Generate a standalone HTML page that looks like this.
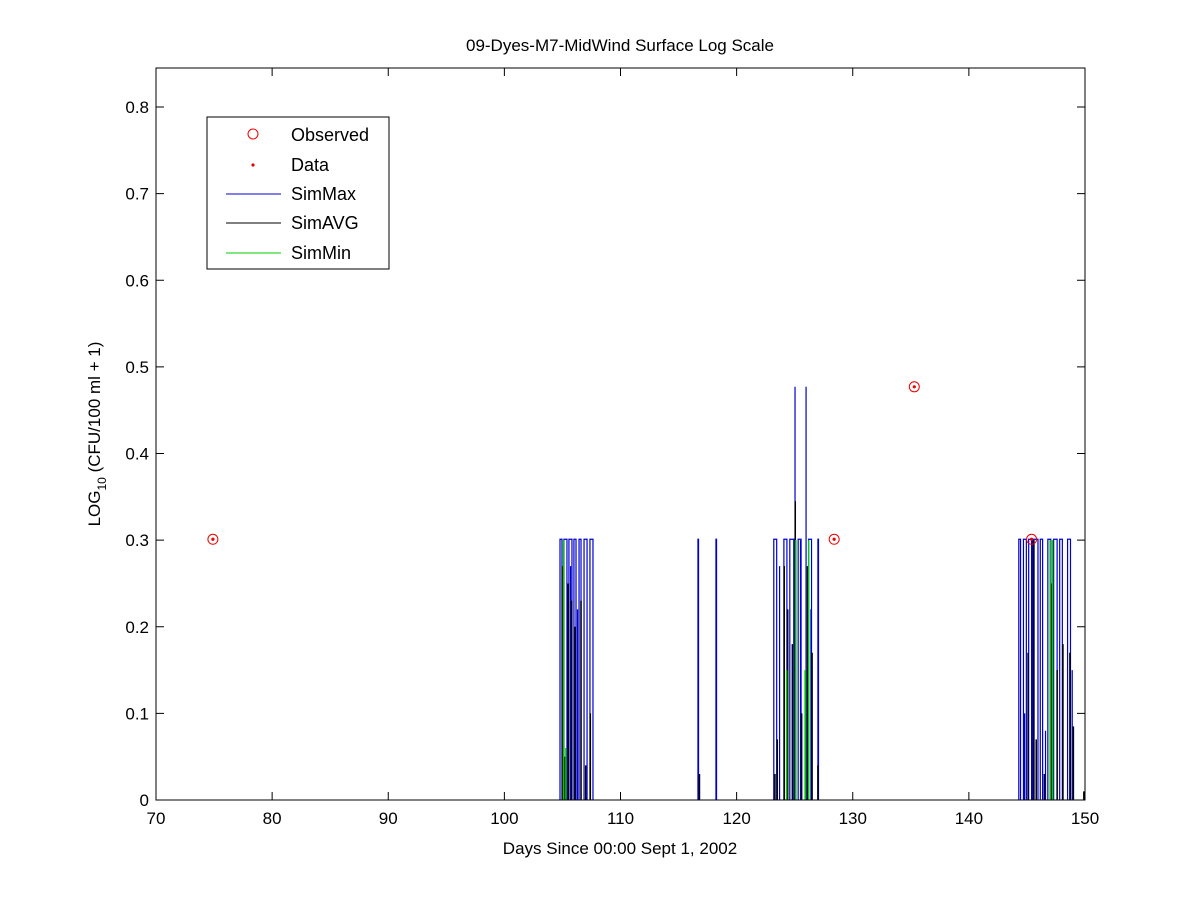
<!DOCTYPE html>
<html><head><meta charset="utf-8"><style>
body{margin:0;background:#fff;}
svg{display:block;font-family:"Liberation Sans",Arial,sans-serif;}
</style></head><body>
<svg id="chart" width="1200" height="900">
<rect width="1200" height="900" fill="#fff"/>
<text x="620" y="51" font-size="17" text-anchor="middle">09-Dyes-M7-MidWind Surface Log Scale</text>
<text x="620" y="854" font-size="17" text-anchor="middle">Days Since 00:00 Sept 1, 2002</text>
<text transform="translate(100,434) rotate(-90)" font-size="17" text-anchor="middle">LOG<tspan font-size="12" dy="6">10</tspan><tspan dy="-6"> (CFU/100 ml + 1)</tspan></text>
<g id="plot"></g>
<g id="axes"></g>
<g>
<rect x="207" y="117" width="182" height="152" fill="#fff" stroke="#000" stroke-width="1"/>
<circle cx="253" cy="134" r="5" fill="none" stroke="#e00"/>
<text x="291" y="141" font-size="18">Observed</text>
<circle cx="253" cy="165" r="1.6" fill="#e00"/>
<text x="291" y="171" font-size="18">Data</text>
<line x1="226" y1="194" x2="281" y2="194" stroke="#00c"/>
<text x="291" y="200" font-size="18">SimMax</text>
<line x1="226" y1="223" x2="281" y2="223" stroke="#000"/>
<text x="291" y="229" font-size="18">SimAVG</text>
<line x1="226" y1="253" x2="281" y2="253" stroke="#0c0"/>
<text x="291" y="259" font-size="18">SimMin</text>
</g>
</svg>
<script>
const xTicks=[70,80,90,100,110,120,130,140,150];
const yTicks=[0,0.1,0.2,0.3,0.4,0.5,0.6,0.7,0.8];
const obsDays=[74.9,128.4,135.3,145.4];
const obsVals=[0.301,0.301,0.477,0.301];
const maxPulseStart=[104.79,105.13,105.56,105.99,106.43,106.86,107.37,116.67,118.22,123.2,124.07,124.58,125.3,126.2,127.0,144.3,144.7,145.15,145.55,146.15,146.8,147.3,147.82,148.5];
const maxPulseEnd=[104.96,105.39,105.82,106.17,106.60,107.12,107.63,116.72,118.27,123.45,124.33,124.92,125.55,126.45,127.05,144.45,144.95,145.4,145.95,146.35,147.05,147.6,148.05,148.75];
const maxPulseVal=0.301;
const maxSpikeDays=[125.03,125.98,105.0,105.7,106.3,123.7,125.5,126.4,145.5,144.8,146.6,148.5,148.9];
const maxSpikeVals=[0.477,0.477,0.05,0.27,0.22,0.27,0.30,0.22,0.30,0.10,0.08,0.15,0.15];
const avgDays=[105.0,105.2,105.5,105.8,106.1,106.6,107.0,107.4,116.8,123.3,123.5,124.1,124.4,124.8,125.05,125.6,126.1,126.5,127.0,145.1,145.6,145.8,146.5,147.1,147.6,148.1,148.7,149.0,149.9];
const avgVals=[0.27,0.05,0.25,0.23,0.20,0.23,0.04,0.10,0.03,0.03,0.07,0.27,0.22,0.18,0.345,0.10,0.27,0.17,0.04,0.17,0.30,0.07,0.03,0.25,0.15,0.18,0.17,0.085,0.01];
const minDays=[105.1,105.3,124.3,125.1,125.9,126.2,147.0,147.2];
const minVals=[0.30,0.06,0.15,0.30,0.15,0.30,0.30,0.30];

const X0=156,X1=1085,Y0=800,YT=68;
const xs=d=>X0+(d-70)/80*(X1-X0);
const ys=v=>Y0-v/0.8*(Y0-107);
const NS="http://www.w3.org/2000/svg";
const plot=document.getElementById('plot'),axes=document.getElementById('axes');
function mk(tag,attrs,parent){const e=document.createElementNS(NS,tag);for(const k in attrs)e.setAttribute(k,attrs[k]);parent.appendChild(e);return e;}
let d='';
for(let i=0;i<maxPulseStart.length;i++){const a=xs(maxPulseStart[i]),b=xs(maxPulseEnd[i]),t=ys(maxPulseVal);d+=`M${a},${Y0}V${t}H${b}V${Y0}`;}
for(let i=0;i<maxSpikeDays.length;i++){const a=xs(maxSpikeDays[i]);d+=`M${a},${Y0}V${ys(maxSpikeVals[i])}`;}
let p=mk('path',{d:d,stroke:'#0000cc','stroke-width':1.2,fill:'none'},plot);


d='';
for(let i=0;i<avgDays.length;i++){const a=xs(avgDays[i]);d+=`M${a},${Y0}V${ys(avgVals[i])}`;}
p=mk('path',{d:d,stroke:'#000','stroke-width':1.5,fill:'none'},plot);


d='';
for(let i=0;i<minDays.length;i++){const a=xs(minDays[i]);d+=`M${a},${Y0}V${ys(minVals[i])}`;}
p=mk('path',{d:d,stroke:'#00cc00','stroke-width':1.5,fill:'none'},plot);


for(let i=0;i<obsDays.length;i++){
 const c=mk('circle',{cx:xs(obsDays[i]),cy:ys(obsVals[i]),r:5,fill:'none',stroke:'#e00'},plot);
 
 
 const c2=mk('circle',{cx:xs(obsDays[i]),cy:ys(obsVals[i]),r:1.6,fill:'#e00'},plot);
 
 
}
const box=mk('rect',{x:X0,y:YT,width:X1-X0,height:Y0-YT,fill:'none',stroke:'#000'},axes);


xTicks.forEach(t=>{const x=xs(t);
 mk('line',{x1:x,x2:x,y1:Y0,y2:Y0-8,stroke:'#000'},axes);mk('line',{x1:x,x2:x,y1:YT,y2:YT+8,stroke:'#000'},axes);
 const tx=mk('text',{x:x,y:Y0+24,'font-size':17,'text-anchor':'middle'},axes);tx.textContent=t;
 
 });
yTicks.forEach(t=>{const y=ys(t);
 mk('line',{x1:X0,x2:X0+8,y1:y,y2:y,stroke:'#000'},axes);mk('line',{x1:X1,x2:X1-8,y1:y,y2:y,stroke:'#000'},axes);
 const tx=mk('text',{x:X0-7,y:y+6,'font-size':17,'text-anchor':'end'},axes);tx.textContent=t===0?'0':t.toFixed(1);
 
 });
</script>
</body></html>
